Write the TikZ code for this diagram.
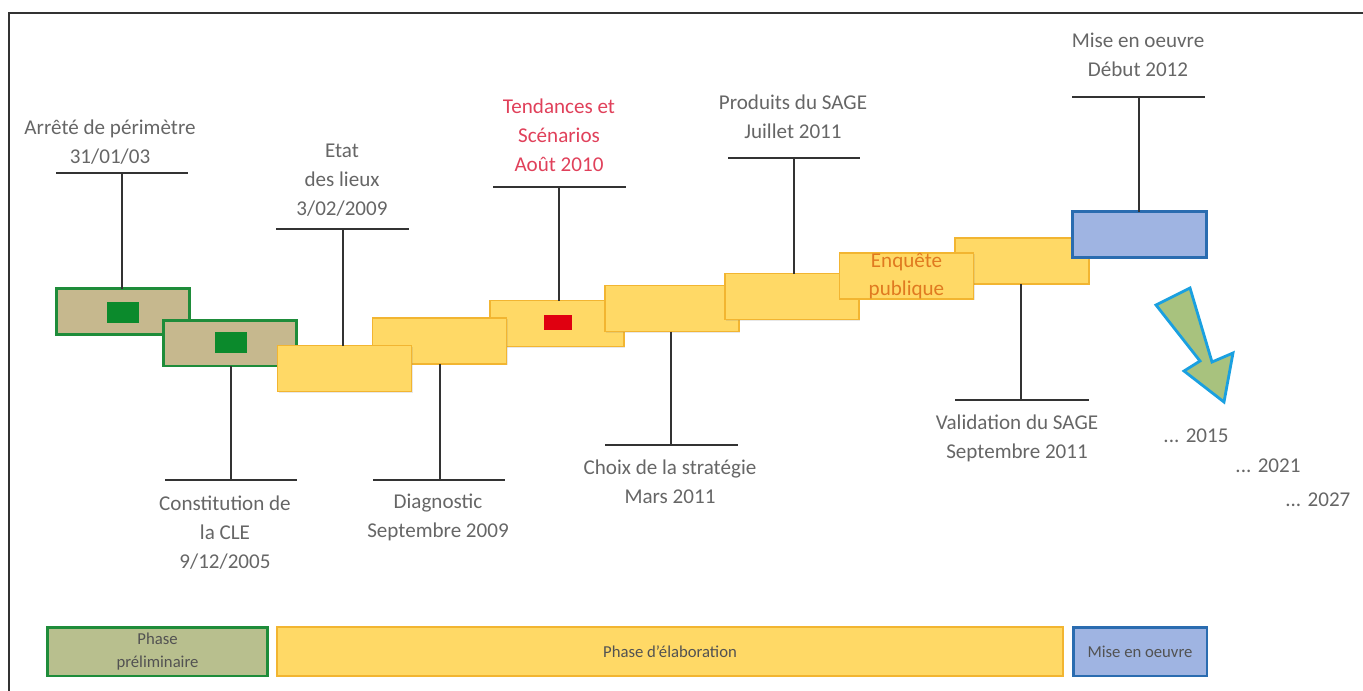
\documentclass[tikz,border=0pt]{standalone}
\usepackage{fontspec}
\setmainfont{Carlito}
\usetikzlibrary{calc,shadows}
\definecolor{frame}{HTML}{333333}
\definecolor{gborder}{HTML}{1E8C3A}
\definecolor{gfill}{HTML}{C6B88E}
\definecolor{gphase}{HTML}{B8BF8E}
\definecolor{ginner}{HTML}{0B8A2C}
\definecolor{yfill}{HTML}{FFD966}
\definecolor{yborder}{HTML}{F2B531}
\definecolor{bfill}{HTML}{9FB4E2}
\definecolor{bborder}{HTML}{2A6CB0}
\definecolor{txt}{HTML}{666666}
\definecolor{pinktxt}{HTML}{E0405A}
\definecolor{orangetxt}{HTML}{E07A20}
\definecolor{redin}{HTML}{E00010}
\definecolor{arrowfill}{HTML}{A8C27E}
\definecolor{arrowline}{HTML}{1AA0E0}
\tikzset{
  box/.style={minimum width=2.68cm, minimum height=0.92cm, inner sep=0pt, outer sep=0pt,
    drop shadow={opacity=0.18, shadow xshift=0.6pt, shadow yshift=-0.8pt}},
  gbox/.style={box, draw=gborder, fill=gfill, line width=1.7pt},
  ybox/.style={box, draw=yborder, fill=yfill, line width=1.1pt},
  bbox/.style={box, draw=bborder, fill=bfill, line width=1.7pt},
  inner/.style={minimum width=0.64cm, minimum height=0.42cm, inner sep=0pt},
  stem/.style={draw=frame, line width=1.2pt},
  lbl/.style={text=txt, align=center, inner sep=0pt, font=\fontsize{12}{16.5}\selectfont},
  plbl/.style={align=center, inner sep=0pt, font=\fontsize{9.5}{13}\selectfont},
}
\begin{document}
\begin{tikzpicture}[x=0.02cm, y=-0.02cm]
\useasboundingbox (0,0) rectangle (1363,690);
% frame
\draw[frame, line width=1.3pt] (9,700) -- (9,13) -- (1370,13);

% boxes (back to front)
\node[gbox] (g1) at (123,311.5) {};
\node[inner, fill=ginner] (g1i) at (123,312.5) {};
\node[gbox] (g2) at (230,343) {};
\node[inner, fill=ginner] (g2i) at (231,342.5) {};
\node[ybox] (tend) at (557,323.5) {};
\node[inner, fill=redin, minimum width=0.56cm, minimum height=0.3cm] (tendi) at (558,322.5) {};
\node[ybox] (diag) at (439.5,341) {};
\node[ybox] (etat) at (344.5,368.5) {};
\node[ybox] (choix) at (672,308.5) {};
\node[ybox] (prod) at (792,296.5) {};
\node[ybox] (valid) at (1022,261) {};
\node[ybox, text=orangetxt, align=center, font=\fontsize{12}{15.5}\selectfont] (enq) at (906.5,276) {Enquête\\publique};
\node[bbox] (mise) at (1139.5,234.5) {};

% upper stems
\coordinate (t1) at (122,173);
\coordinate (t2) at (343,229);
\coordinate (t3) at (559,187);
\coordinate (t4) at (794,158);
\coordinate (t5) at (1139,97);
\draw[stem] (g1.north -| t1) -- (t1);
\draw[stem] ($(t1)+(-66,0)$) -- ($(t1)+(66,0)$);
\draw[stem] (etat.north -| t2) -- (t2);
\draw[stem] ($(t2)+(-67,0)$) -- ($(t2)+(66,0)$);
\draw[stem] (tend.north -| t3) -- (t3);
\draw[stem] ($(t3)+(-66,0)$) -- ($(t3)+(67,0)$);
\draw[stem] (prod.north -| t4) -- (t4);
\draw[stem] ($(t4)+(-66,0)$) -- ($(t4)+(66,0)$);
\draw[stem] (mise.north -| t5) -- (t5);
\draw[stem] ($(t5)+(-67,0)$) -- ($(t5)+(66,0)$);

% lower stems
\coordinate (b1) at (231,480);
\coordinate (b2) at (440,480);
\coordinate (b3) at (671,445);
\coordinate (b4) at (1021,400);
\draw[stem] (g2.south -| b1) -- (b1);
\draw[stem] ($(b1)+(-66,0)$) -- ($(b1)+(66,0)$);
\draw[stem] (diag.south -| b2) -- (b2);
\draw[stem] ($(b2)+(-67,0)$) -- ($(b2)+(65,0)$);
\draw[stem] (choix.south -| b3) -- (b3);
\draw[stem] ($(b3)+(-66,0)$) -- ($(b3)+(67,0)$);
\draw[stem] (valid.south -| b4) -- (b4);
\draw[stem] ($(b4)+(-66,0)$) -- ($(b4)+(68,0)$);

% labels
\node[lbl] (l1) at (110,142) {Arrêté de périmètre\\31/01/03};
\node[lbl] (l2) at (342,180) {Etat\\des lieux\\3/02/2009};
\node[lbl, text=pinktxt] (l3) at (559,135) {Tendances et\\Scénarios\\Août 2010};
\node[lbl] (l4) at (793,117) {Produits du SAGE\\Juillet 2011};
\node[lbl] (l5) at (1138,55) {Mise en oeuvre\\Début 2012};
\node[lbl] (l6) at (225,533) {Constitution de\\la CLE\\9/12/2005};
\node[lbl] (l7) at (438,517) {Diagnostic\\Septembre 2009};
\node[lbl] (l8) at (670,482) {Choix de la stratégie\\Mars 2011};
\node[lbl] (l9) at (1017,438) {Validation du SAGE\\Septembre 2011};
\node[lbl] (y1) at (1196,436) {... 2015};
\node[lbl] (y2) at (1268,466) {... 2021};
\node[lbl, anchor=west] (y3) at (1285,500) {... 2027};

% arrow
\draw[line width=1.6pt, draw=arrowline, fill=arrowfill, line join=miter]
  (1156,305) -- (1190,288) -- (1212,362) -- (1233,353) -- (1224,402) -- (1184,371) -- (1200,361) -- cycle;

% phase bars
\node[draw=gborder, fill=gphase, line width=1.7pt, minimum width=4.42cm, minimum height=0.98cm, inner sep=0pt, plbl, text=txt!80!black] (p1) at (157.5,651.5) {Phase\\préliminaire};
\node[draw=yborder, fill=yfill, line width=1.1pt, minimum width=15.72cm, minimum height=0.98cm, inner sep=0pt, plbl, text=txt!80!black] (p2) at (670,651.5) {Phase d'élaboration};
\node[draw=bborder, fill=bfill, line width=1.7pt, minimum width=2.68cm, minimum height=0.98cm, inner sep=0pt, plbl, text=txt!80!black] (p3) at (1140,651.5) {Mise en oeuvre};
\end{tikzpicture}
\end{document}
